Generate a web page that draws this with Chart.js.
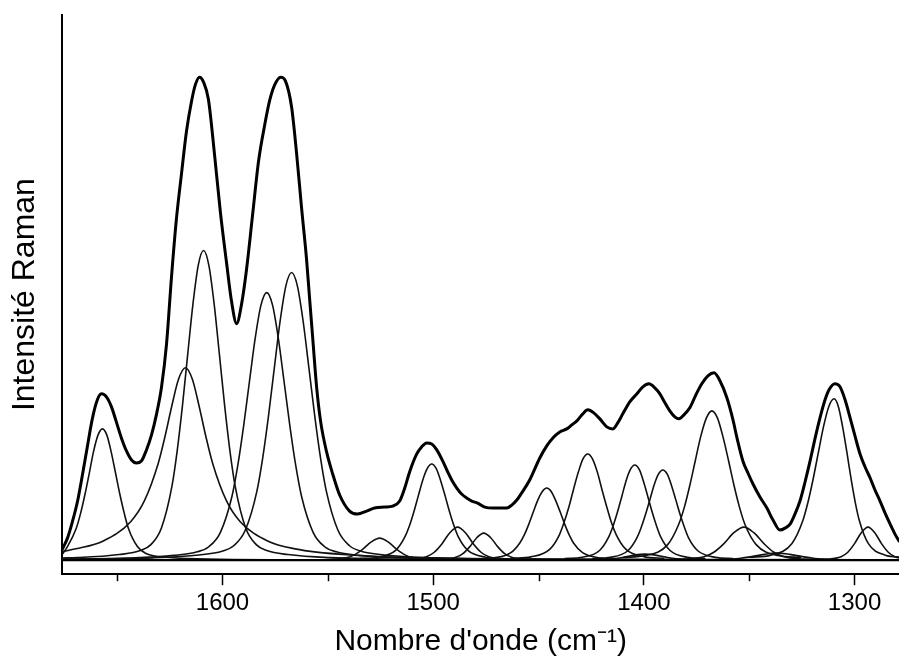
<!DOCTYPE html>
<html><head><meta charset="utf-8">
<script src="https://cdn.jsdelivr.net/npm/chart.js@4/dist/chart.umd.min.js"></script>
<style>html,body{margin:0;padding:0;background:#fff}#wrap{width:899px;height:665px}</style>
</head><body><div id="wrap"><canvas id="c" width="899" height="665"></canvas></div>
<script>
// Axis ticks (wavenumber, cm-1)
const majorTicks = [1600, 1500, 1400, 1300];
const minorTicks = [1650, 1550, 1450, 1350];

// Measured spectrum (thick envelope)
const sumWn = [1676.0,1673.6,1671.3,1668.9,1666.5,1664.1,1661.8,1659.4,1657.5,1655.1,
1652.7,1650.4,1648.0,1645.6,1643.2,1640.9,1638.5,1636.1,1633.7,1631.4,
1629.0,1626.6,1624.2,1621.9,1619.5,1617.1,1614.7,1612.8,1610.9,1609.0,
1606.7,1603.8,1601.0,1598.1,1595.7,1593.3,1591.0,1588.6,1585.7,1582.9,
1580.0,1577.7,1575.3,1572.4,1570.1,1567.2,1564.8,1562.5,1560.1,1558.7,
1557.2,1555.3,1553.4,1550.6,1547.7,1544.4,1539.7,1535.9,1531.6,1527.8,
1523.0,1519.2,1515.9,1513.5,1511.2,1507.8,1505.5,1503.1,1500.7,1498.3,
1495.5,1493.1,1491.2,1488.8,1486.5,1484.1,1481.7,1478.9,1475.5,1471.7,
1468.4,1465.1,1462.7,1460.3,1458.0,1454.2,1449.4,1446.1,1443.2,1439.9,
1436.6,1434.2,1431.8,1429.0,1426.6,1423.8,1420.9,1417.6,1414.7,1412.4,
1410.0,1406.7,1403.3,1400.5,1397.6,1394.8,1392.4,1390.0,1387.7,1385.3,
1383.4,1381.0,1378.2,1375.3,1372.5,1369.6,1366.7,1363.9,1360.6,1357.7,
1355.8,1353.0,1350.6,1348.2,1344.9,1341.6,1338.7,1335.4,1333.0,1330.6,
1328.3,1325.9,1323.5,1321.1,1318.8,1316.4,1314.0,1312.1,1309.3,1306.9,
1304.5,1302.1,1299.8,1297.4,1295.0,1292.6,1290.3,1287.9,1285.5,1283.1,
1280.8,1278.9];
const sumI = [11,22,38,58,85,114,141,160,166,163,
153,138,122,109,100,97,99,110,125,145,
172,215,283,340,385,428,458,475,482,477,
460,405,347,297,258,236,255,290,345,398,
434,458,474,482,478,452,405,352,300,262,
222,172,138,108,86,65,49,46,49,52,
53,54,59,72,88,106,113,117,116,110,
99,88,80,72,66,62,59,57,53,52,
52,52,55,60,67,80,102,114,122,128,
131,135,139,146,150,147,141,133,131,137,
146,158,166,173,176,172,166,157,149,143,
141,145,152,165,176,184,187,179,162,140,
122,99,87,76,63,52,40,30,32,36,
46,59,78,99,121,142,160,170,176,173,
160,142,124,106,93,82,70,59,47,36,
26,19];

// Baseline
const baseWn = [1676, 1278.9];
const baseI = [0, 0];

// Fitted component bands
const c1Wn = [1676,1673.6,1669.5,1667.4,1665.3,1663.2,1661.2,1659.1,1657,1654.9,1652.9,1650.8,1648.7,1646.6,1644.6,1640.4,1636.3,1632.1,1623.8,1607.2,1574,1279];
const c1I  = [6,13.6,31.3,46.4,65.5,87.2,108.6,124.8,131,124.8,108.6,87.2,65.5,46.4,31.3,13.6,6.6,4.1,2.4,1.0,0.4,0];

const c2Wn = [1676,1669.6,1656.6,1643.6,1637.1,1630.6,1627.35,1624.1,1620.85,1617.6,1614.35,1611.1,1607.85,1604.6,1598.1,1591.6,1578.6,1565.6,1539.6,1487.6,1357.6,1279];
const c2I  = [8.5,11.3,19.2,38.4,59.1,96,122.9,153.6,180.7,192,180.7,153.6,122.9,96,59.1,38.4,19.2,11.3,5.2,1.9,0.5,0.3];

const c3Wn = [1676,1669,1649,1639,1634,1629,1624,1621.5,1619,1616.5,1614,1611.5,1609,1606.5,1604,1601.5,1599,1596.5,1594,1589,1584,1579,1569,1549,1509,1279];
const c3I  = [2.2,2.5,5.6,9.6,15.5,32.1,73.9,109.4,154.5,205.8,256.2,294.5,309,294.5,256.2,205.8,154.5,109.4,73.9,32.1,15.5,9.6,5.6,2.5,0.9,0.1];

const c4Wn = [1676,1645,1623,1612,1606.5,1601,1595.5,1592.75,1590,1587.25,1584.5,1581.75,1579,1576.25,1573.5,1570.75,1568,1565.25,1562.5,1557,1551.5,1546,1535,1513,1469,1279];
const c4I  = [1.0,2.1,4.8,8.3,13.4,27.8,63.8,94.5,133.5,177.8,221.3,254.5,267,254.5,221.3,177.8,133.5,94.5,63.8,27.8,13.4,8.3,4.8,2.1,0.8,0.1];

const c5Wn = [1676,1633.2,1611.2,1600.2,1594.7,1589.2,1583.7,1580.95,1578.2,1575.45,1572.7,1569.95,1567.2,1564.45,1561.7,1558.95,1556.2,1553.45,1550.7,1545.2,1539.7,1534.2,1523.2,1501.2,1457.2,1279];
const c5I  = [0.8,2.3,5.2,8.9,14.4,29.8,68.6,101.6,143.5,191.1,237.9,273.5,287,273.5,237.9,191.1,143.5,101.6,68.6,29.8,14.4,8.9,5.2,2.3,0.9,0.1];

const c6Wn = [1557.4,1549.4,1541.4,1537.4,1533.4,1529.4,1525.4,1521.4,1517.4,1513.4,1509.4,1501.4,1493.4];
const c6I  = [0.4,0.7,2.3,5.3,11,18.2,22,18.2,11,5.3,2.3,0.7,0.4];

const c7Wn = [1534.7,1526.2,1517.7,1513.5,1511.3,1509.2,1507.1,1505.0,1502.8,1500.7,1498.6,1496.5,1494.3,1492.2,1490.1,1488.0,1483.7,1475.2,1466.7];
const c7I  = [1.7,3.0,10.0,22.9,34.0,48,63.9,79.6,91.5,96,91.5,79.6,63.9,48,34.0,22.9,10.0,3.0,1.7];

const c8Wn = [1518.0,1510.6,1503.2,1499.5,1495.8,1492.1,1488.4,1484.7,1481.0,1477.3,1473.6,1466.2,1458.8];
const c8I  = [0.6,1.0,3.4,7.9,16.5,27.4,33,27.4,16.5,7.9,3.4,1.0,0.6];

const c9Wn = [1502.4,1495.8,1489.2,1485.9,1482.6,1479.3,1476,1472.7,1469.4,1466.1,1462.8,1456.2,1449.6];
const c9I  = [0.5,0.8,2.8,6.5,13.5,22.4,27,22.4,13.5,6.5,2.8,0.8,0.5];

const c10Wn = [1480.1,1471.6,1463.1,1458.9,1456.7,1454.6,1452.5,1450.4,1448.2,1446.1,1444.0,1441.9,1439.7,1437.6,1435.5,1433.4,1429.1,1420.6,1412.1];
const c10I  = [1.3,2.2,7.5,17.2,25.5,36,48.0,59.7,68.6,72,68.6,59.7,48.0,36,25.5,17.2,7.5,2.2,1.3];

const c11Wn = [1462.6,1453.6,1444.6,1440.1,1437.9,1435.6,1433.4,1431.1,1428.9,1426.6,1424.4,1422.1,1419.9,1417.6,1415.4,1413.1,1408.6,1399.6,1390.6];
const c11I  = [1.9,3.3,11.0,25.3,37.5,53,70.6,87.9,101.0,106,101.0,87.9,70.6,53,37.5,25.3,11.0,3.3,1.9];

const c12Wn = [1437.5,1429.2,1420.9,1416.8,1414.7,1412.6,1410.5,1408.5,1406.4,1404.3,1402.2,1400.2,1398.1,1396.0,1393.9,1391.9,1387.7,1379.4,1371.1];
const c12I  = [1.7,2.9,9.9,22.7,33.6,47.5,63.3,78.8,90.5,95,90.5,78.8,63.3,47.5,33.6,22.7,9.9,2.9,1.7];

const c13Wn = [1424.2,1415.9,1407.6,1403.5,1401.4,1399.3,1397.2,1395.2,1393.1,1391.0,1388.9,1386.9,1384.8,1382.7,1380.6,1378.6,1374.4,1366.1,1357.8];
const c13I  = [1.6,2.8,9.4,21.5,31.9,45,59.9,74.6,85.8,90,85.8,74.6,59.9,45,31.9,21.5,9.4,2.8,1.6];

const c14Wn = [1409.7,1399.2,1388.7,1383.5,1380.8,1378.2,1375.6,1373.0,1370.3,1367.7,1365.1,1362.5,1359.8,1357.2,1354.6,1352.0,1346.7,1336.2,1325.7];
const c14I  = [2.7,4.6,15.5,35.6,52.7,74.5,99.2,123.5,142.0,149,142.0,123.5,99.2,74.5,52.7,35.6,15.5,4.6,2.7];

const c15Wn = [1390.5,1381.0,1371.5,1366.8,1362.0,1357.3,1352.5,1347.8,1343.0,1338.3,1333.5,1324.0,1314.5];
const c15I  = [0.6,1.0,3.4,7.9,16.5,27.4,33,27.4,16.5,7.9,3.4,1.0,0.6];

const c16Wn = [1439.5,1429.5,1419.5,1414.5,1409.5,1404.5,1399.5,1394.5,1389.5,1384.5,1379.5,1369.5,1359.5];
const c16I  = [0.1,0.2,0.6,1.4,3,5,6,5,3,1.4,0.6,0.2,0.1];

const c17Wn = [1384.8,1372.8,1360.8,1354.8,1348.8,1342.8,1336.8,1330.8,1324.8,1318.8,1312.8,1300.8,1288.8];
const c17I  = [0.1,0.2,0.7,1.7,3.5,5.8,7,5.8,3.5,1.7,0.7,0.2,0.1];

const c18Wn = [1349.7,1339.7,1329.7,1324.7,1322.2,1319.7,1317.2,1314.7,1312.2,1309.7,1307.7,1305.7,1303.6,1301.6,1299.6,1297.6,1293.5,1285.4,1277.3];
const c18I  = [2.9,5.0,16.7,38.5,57.0,80.5,107.2,133.5,153.4,161,153.4,133.5,107.2,80.5,57.0,38.5,16.7,5.0,2.9];

const c19Wn = [1319.2,1312.8,1306.4,1303.2,1300.0,1296.8,1293.6,1290.4,1287.2,1284.0,1280.8,1274.4,1268.0];
const c19I  = [0.6,1.0,3.4,7.9,16.5,27.4,33,27.4,16.5,7.9,3.4,1.0,0.6];

const xMin = 1278.9, xMax = 1676;
const yMin = -14, yMax = 544;

const toPts = (xs, ys) => xs.map((x, i) => ({x: x, y: ys[i]}));
const comps = [[c1Wn,c1I],[c2Wn,c2I],[c3Wn,c3I],[c4Wn,c4I],[c5Wn,c5I],[c6Wn,c6I],[c7Wn,c7I],
  [c8Wn,c8I],[c9Wn,c9I],[c10Wn,c10I],[c11Wn,c11I],[c12Wn,c12I],[c13Wn,c13I],[c14Wn,c14I],
  [c15Wn,c15I],[c16Wn,c16I],[c17Wn,c17I],[c18Wn,c18I],[c19Wn,c19I]];

const datasets = [];
datasets.push({label:'baseline', data: toPts(baseWn, baseI), borderColor:'#000', borderWidth:2.4, pointRadius:0, tension:0});
comps.forEach((c, i) => datasets.push({label:'band'+(i+1), data: toPts(c[0], c[1]), borderColor:'#111',
  borderWidth:1.6, pointRadius:0, cubicInterpolationMode:'monotone'}));
datasets.push({label:'spectrum', data: toPts(sumWn, sumI), borderColor:'#000', borderWidth:3,
  pointRadius:0, cubicInterpolationMode:'monotone'});

const minorTickPlugin = {
  id: 'minorTicks',
  afterDraw(chart) {
    const sx = chart.scales.x, ctx = chart.ctx, y0 = chart.chartArea.bottom;
    ctx.save();
    ctx.strokeStyle = '#000'; ctx.lineWidth = 1.5;
    minorTicks.forEach(v => {
      const px = Math.round(sx.getPixelForValue(v)) + 0.5;
      ctx.beginPath(); ctx.moveTo(px, y0); ctx.lineTo(px, y0 + 7); ctx.stroke();
    });
    ctx.restore();
  }
};

const FONT = "'Liberation Sans', Arial, sans-serif";
new Chart(document.getElementById('c'), {
  type: 'line',
  data: { datasets },
  plugins: [minorTickPlugin],
  options: {
    responsive: false, animation: false, devicePixelRatio: 1,
    layout: { padding: { top: 15, right: 0, left: 2, bottom: 5 } },
    plugins: { legend: { display: false }, tooltip: { enabled: false } },
    elements: { line: { borderCapStyle: 'round', borderJoinStyle: 'round' } },
    scales: {
      x: {
        type: 'linear', reverse: true, min: xMin, max: xMax, position: 'bottom',
        afterBuildTicks: (s) => { s.ticks = majorTicks.map(v => ({value: v})); },
        ticks: { font: { family: FONT, size: 24 }, color: '#000', padding: 4, maxRotation: 0, autoSkip: false,
                 includeBounds: false, callback: (v) => String(v) },
        grid: { drawOnChartArea: false, drawTicks: true, tickLength: 11, tickColor: '#000', tickWidth: 1.5 },
        border: { display: true, color: '#000', width: 2 },
        title: { display: true, text: "Nombre d'onde (cm\u207B\u00B9)", color: '#000', font: { family: FONT, size: 30 }, padding: { top: 2, bottom: 0 } }
      },
      y: {
        min: yMin, max: yMax,
        ticks: { display: false },
        grid: { drawOnChartArea: false, drawTicks: false },
        border: { display: true, color: '#000', width: 2 },
        title: { display: true, text: 'Intensité Raman', color: '#000', font: { family: FONT, size: 32 }, padding: { top: 4, bottom: 18 } }
      }
    }
  }
});
</script>
</body></html>
